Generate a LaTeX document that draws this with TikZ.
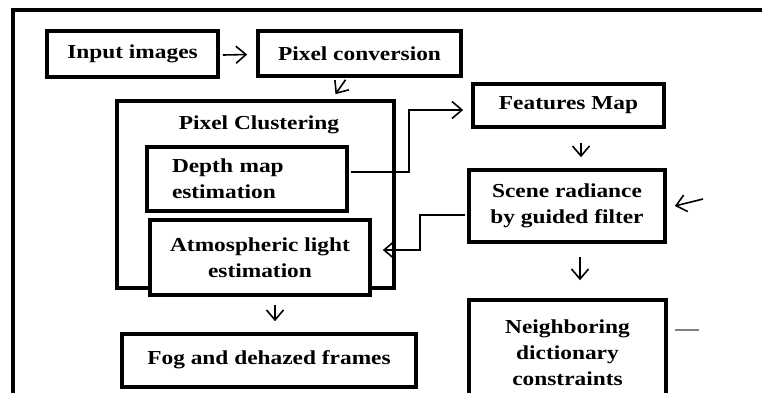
\documentclass[tikz,border=0pt]{standalone}
\usepackage{fontspec}
\setmainfont{Liberation Serif}[FakeStretch=1.18]
\usetikzlibrary{arrows.meta,calc}
\begin{document}
\begin{tikzpicture}[x=1pt,y=-1pt,
  box/.style={draw, line width=3.6pt, fill=white, inner sep=0pt, align=center,
    font=\fontsize{19.8}{26}\selectfont\bfseries},
  txt/.style={inner sep=0pt, font=\fontsize{19.8}{26}\selectfont\bfseries},
  arr/.style={line width=1.6pt, -{Straight Barb[length=10pt,width=17pt]}},
  conn/.style={line width=1.6pt}]
\useasboundingbox (0,0) rectangle (762,392);
\clip (0,0) rectangle (762,392);
\fill[white] (0,0) rectangle (762,392);
% outer frame
\draw[line width=4pt] (13,10) rectangle (800,430);
% boxes
\node[box, minimum width=171, minimum height=46] (inp) at (132.5,54) {Input images};
\node[box, minimum width=203, minimum height=45] (pix) at (359.5,53.5) {Pixel conversion};
\node[box, minimum width=277, minimum height=187] (clus) at (255.5,194.5) {};
\node[txt] (clustitle) at (259,125) {Pixel Clustering};
\node[box, minimum width=200, minimum height=64, text width=150pt, align=left] (depth) at (247,179) {Depth map\\estimation};
\node[box, minimum width=220, minimum height=75] (atm) at (260,257.5) {Atmospheric light\\estimation};
\node[box, minimum width=294, minimum height=53] (fog) at (269,360.5) {\raisebox{5pt}{Fog and dehazed frames}};
\node[box, minimum width=191, minimum height=43] (feat) at (568.5,105.5) {Features Map};
\node[box, minimum width=196, minimum height=72] (scene) at (567,206) {Scene radiance\\by guided filter};
\node[box, minimum width=197, minimum height=106] (neigh) at (567.5,353) {Neighboring\\dictionary\\constraints};
% free ends
\coordinate (extin) at (703,199);
% connectors
\draw[arr] ($(inp.east)+(3,1)$) -- ($(pix.west)+(-9,1)$);
\draw[arr] ($(pix.south)+(-14,2)$) -- ($(clus.north)+(80,-5)$);
\draw[arr] ($(depth.east)+(2,-7)$) -| ($(feat.west)+(-62,4.5)$) -- ($(feat.west)+(-8,4.5)$);
\draw[arr] ($(feat.south)+(12.5,14)$) -- ($(scene.north)+(14,-11)$);
\draw[arr] ($(scene.west)+(-2,9)$) -- ++(-45,0) |- ($(atm.east)+(11,-7.5)$);
\draw[arr] (extin) -- ($(scene.east)+(8,0)$);
\draw[arr] ($(scene.south)+(13,13)$) -- ($(neigh.north)+(12.5,-18)$);
\draw[arr] ($(atm.south)+(15,8)$) -- ($(fog.north)+(6,-11)$);
\coordinate (grayend) at (699,330);
\draw[conn, gray] ($(neigh.east)+(7,-23)$) -- (grayend);
\end{tikzpicture}
\end{document}
